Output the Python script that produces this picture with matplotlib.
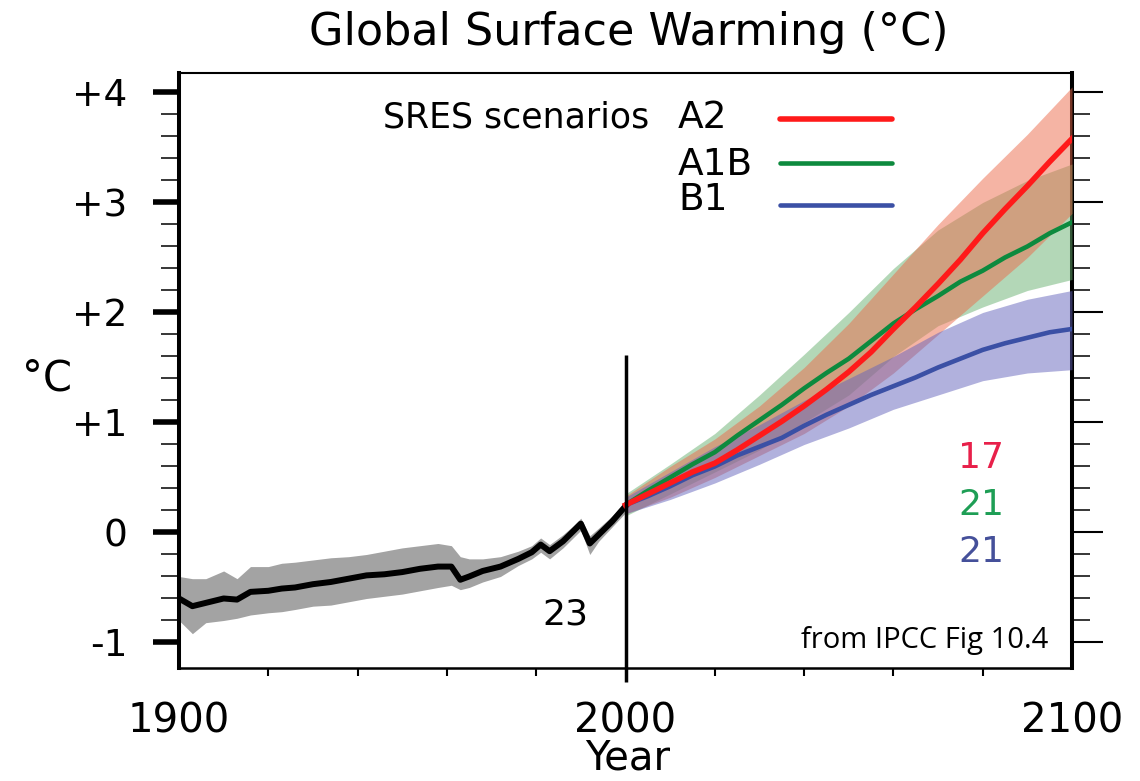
import matplotlib
matplotlib.use("Agg")
import matplotlib.pyplot as plt
from matplotlib.ticker import FixedLocator

plt.rcParams['font.family'] = ['DejaVu Sans']

# observed record (20th century), model mean and spread
hist_years = [1900, 1903, 1906, 1910, 1913, 1916, 1920, 1923, 1926, 1930, 1934, 1938,
              1942, 1946, 1950, 1954, 1958, 1961, 1963, 1965, 1968, 1972, 1976, 1979,
              1981, 1983, 1986, 1988, 1990, 1992, 1994, 1997, 2000]
hist_mean = [-0.60, -0.67, -0.64, -0.60, -0.61, -0.54, -0.53, -0.51, -0.50, -0.47, -0.45, -0.42,
             -0.39, -0.38, -0.36, -0.33, -0.31, -0.31, -0.43, -0.40, -0.35, -0.31, -0.24, -0.18,
             -0.11, -0.17, -0.08, 0.00, 0.08, -0.10, -0.02, 0.10, 0.24]
hist_upper = [-0.40, -0.42, -0.42, -0.35, -0.42, -0.31, -0.31, -0.28, -0.27, -0.25, -0.23, -0.22,
              -0.20, -0.17, -0.14, -0.12, -0.10, -0.12, -0.22, -0.24, -0.24, -0.22, -0.17, -0.12,
              -0.05, -0.11, -0.02, 0.05, 0.13, -0.03, 0.04, 0.15, 0.28]
hist_lower = [-0.80, -0.92, -0.82, -0.80, -0.78, -0.75, -0.73, -0.72, -0.70, -0.67, -0.66, -0.63,
              -0.60, -0.58, -0.56, -0.53, -0.50, -0.48, -0.52, -0.50, -0.45, -0.40, -0.30, -0.24,
              -0.18, -0.24, -0.14, -0.06, 0.02, -0.20, -0.08, 0.05, 0.18]

# SRES scenario means (5-yr points)
proj_years = [2000, 2005, 2010, 2015, 2020, 2025, 2030, 2035, 2040, 2045, 2050,
              2055, 2060, 2065, 2070, 2075, 2080, 2085, 2090, 2095, 2100]
a2_mean = [0.25, 0.35, 0.45, 0.55, 0.63, 0.75, 0.88, 1.01, 1.15, 1.30, 1.46,
           1.64, 1.85, 2.05, 2.26, 2.48, 2.72, 2.94, 3.15, 3.37, 3.58]
a1b_mean = [0.25, 0.38, 0.50, 0.62, 0.73, 0.88, 1.02, 1.16, 1.31, 1.45, 1.58,
            1.74, 1.90, 2.03, 2.15, 2.28, 2.38, 2.50, 2.60, 2.72, 2.82]
b1_mean = [0.25, 0.33, 0.42, 0.52, 0.60, 0.70, 0.78, 0.86, 0.97, 1.07, 1.16,
           1.25, 1.33, 1.41, 1.50, 1.58, 1.66, 1.72, 1.77, 1.82, 1.85]

# scenario spread (10-yr points)
band_years = [2000, 2010, 2020, 2030, 2040, 2050, 2060, 2070, 2080, 2090, 2100]
a2_upper = [0.33, 0.60, 0.85, 1.15, 1.50, 1.90, 2.35, 2.80, 3.22, 3.62, 4.05]
a2_lower = [0.17, 0.32, 0.50, 0.70, 0.90, 1.15, 1.45, 1.80, 2.15, 2.50, 2.90]
a1b_upper = [0.35, 0.62, 0.90, 1.25, 1.62, 2.00, 2.40, 2.75, 3.00, 3.20, 3.35]
a1b_lower = [0.15, 0.35, 0.55, 0.75, 1.00, 1.25, 1.60, 1.88, 2.05, 2.20, 2.30]
b1_upper = [0.32, 0.55, 0.78, 0.98, 1.20, 1.40, 1.60, 1.82, 2.00, 2.12, 2.20]
b1_lower = [0.17, 0.30, 0.45, 0.62, 0.80, 0.95, 1.12, 1.25, 1.38, 1.45, 1.48]

scenarios = ['A2', 'A1B', 'B1']
model_counts = ['17', '21', '21']
hist_count = '23'
line_colors = ['#ff1a1a', '#0d8a3e', '#3b50a5']
band_colors = ['#ec6a4a', '#69b171', '#6464bc']
count_colors = ['#e8204a', '#1e9e55', '#45509a']

fig = plt.figure(figsize=(11.4, 7.81), dpi=100)
ax = fig.add_axes([179/1140, 1-668/781, 893/1140, 595/781])

ax.fill_between(hist_years, hist_lower, hist_upper, color='#a3a3a3', lw=0)
ax.fill_between(band_years, a1b_lower, a1b_upper, color=band_colors[1], alpha=0.5, lw=0)
ax.fill_between(band_years, a2_lower, a2_upper, color=band_colors[0], alpha=0.5, lw=0)
ax.fill_between(band_years, b1_lower, b1_upper, color=band_colors[2], alpha=0.5, lw=0)

ax.plot(hist_years, hist_mean, color='black', lw=4.3, solid_joinstyle='round')
ax.plot(proj_years, b1_mean, color=line_colors[2], lw=3.3)
ax.plot(proj_years, a1b_mean, color=line_colors[1], lw=3.3)
ax.plot(proj_years, a2_mean, color=line_colors[0], lw=4.0)

# divider at year 2000
ax.vlines(2000, -1.36, 1.61, color='black', lw=2.5, clip_on=False, zorder=5)

ax.set_xlim(1900, 2100)
ax.set_ylim(-1.232, 4.177)

ax.set_xticks([1900, 2000, 2100])
ax.set_xticklabels(['1900', '2000', '2100'], fontsize=29)
ax.xaxis.set_minor_locator(FixedLocator([1920, 1940, 1960, 1980, 2020, 2040, 2060, 2080]))
ax.tick_params(axis='x', which='major', length=0, pad=24)
ax.tick_params(axis='x', which='minor', length=6, width=1.5, direction='out')

yt = [-1, 0, 1, 2, 3, 4]
ax.set_yticks(yt)
ax.set_yticklabels(['-1', '0', '+1', '+2', '+3', '+4'], fontsize=27)
yminor = [v / 5 for v in range(-5, 21) if v % 5 != 0]
ax.yaxis.set_minor_locator(FixedLocator(yminor))
ax.tick_params(axis='y', which='major', length=19, width=4, pad=18, right=False)
ax.tick_params(axis='y', which='minor', length=13, width=1.1, right=False)

sec = ax.secondary_yaxis('right')
sec.set_yticks(yt)
sec.yaxis.set_minor_locator(FixedLocator(yminor))
sec.tick_params(axis='y', which='major', length=22, width=1.5, labelright=False)
sec.tick_params(axis='y', which='minor', length=13, width=1.1)
sec.spines['right'].set_linewidth(2.9)

ax.spines['left'].set_linewidth(2.9)
ax.spines['right'].set_visible(False)
ax.spines['top'].set_linewidth(1.5)
ax.spines['bottom'].set_linewidth(1.8)

# legend
ax.text(0.527, 0.908, 'SRES scenarios', transform=ax.transAxes, fontsize=25,
        ha='right', va='baseline')
lab_y = [0.907, 0.829, 0.770]
line_y = [0.923, 0.849, 0.778]
line_w = [4.0, 3.3, 3.3]
for name, ty, ly, c, w in zip(scenarios, lab_y, line_y, line_colors, line_w):
    ax.text(0.559, ty, name, transform=ax.transAxes, fontsize=27, ha='left', va='baseline')
    ax.plot([0.673, 0.798], [ly, ly], transform=ax.transAxes, color=c, lw=w,
            solid_capstyle='round')

# model counts
count_y = [0.586, 0.159, -0.268]
for n, y, c in zip(model_counts, count_y, count_colors):
    ax.text(2079.6, y, n, color=c, fontsize=26, ha='center', va='baseline')
ax.text(1986.6, -0.84, hist_count, fontsize=26, ha='center', va='baseline')

ax.text(2094.6, -1.05, 'from IPCC Fig 10.4', fontsize=21, family='Open Sans',
        ha='right', va='baseline')

fig.text(629/1140, 1-45/781, 'Global Surface Warming (°C)', fontsize=32,
         ha='center', va='baseline')
fig.text(628/1140, 2/781, 'Year', fontsize=29, ha='center', va='bottom')
fig.text(47/1140, 1-390/781, '°C', fontsize=30, ha='center', va='baseline')

fig.savefig('out.png', dpi=100)
